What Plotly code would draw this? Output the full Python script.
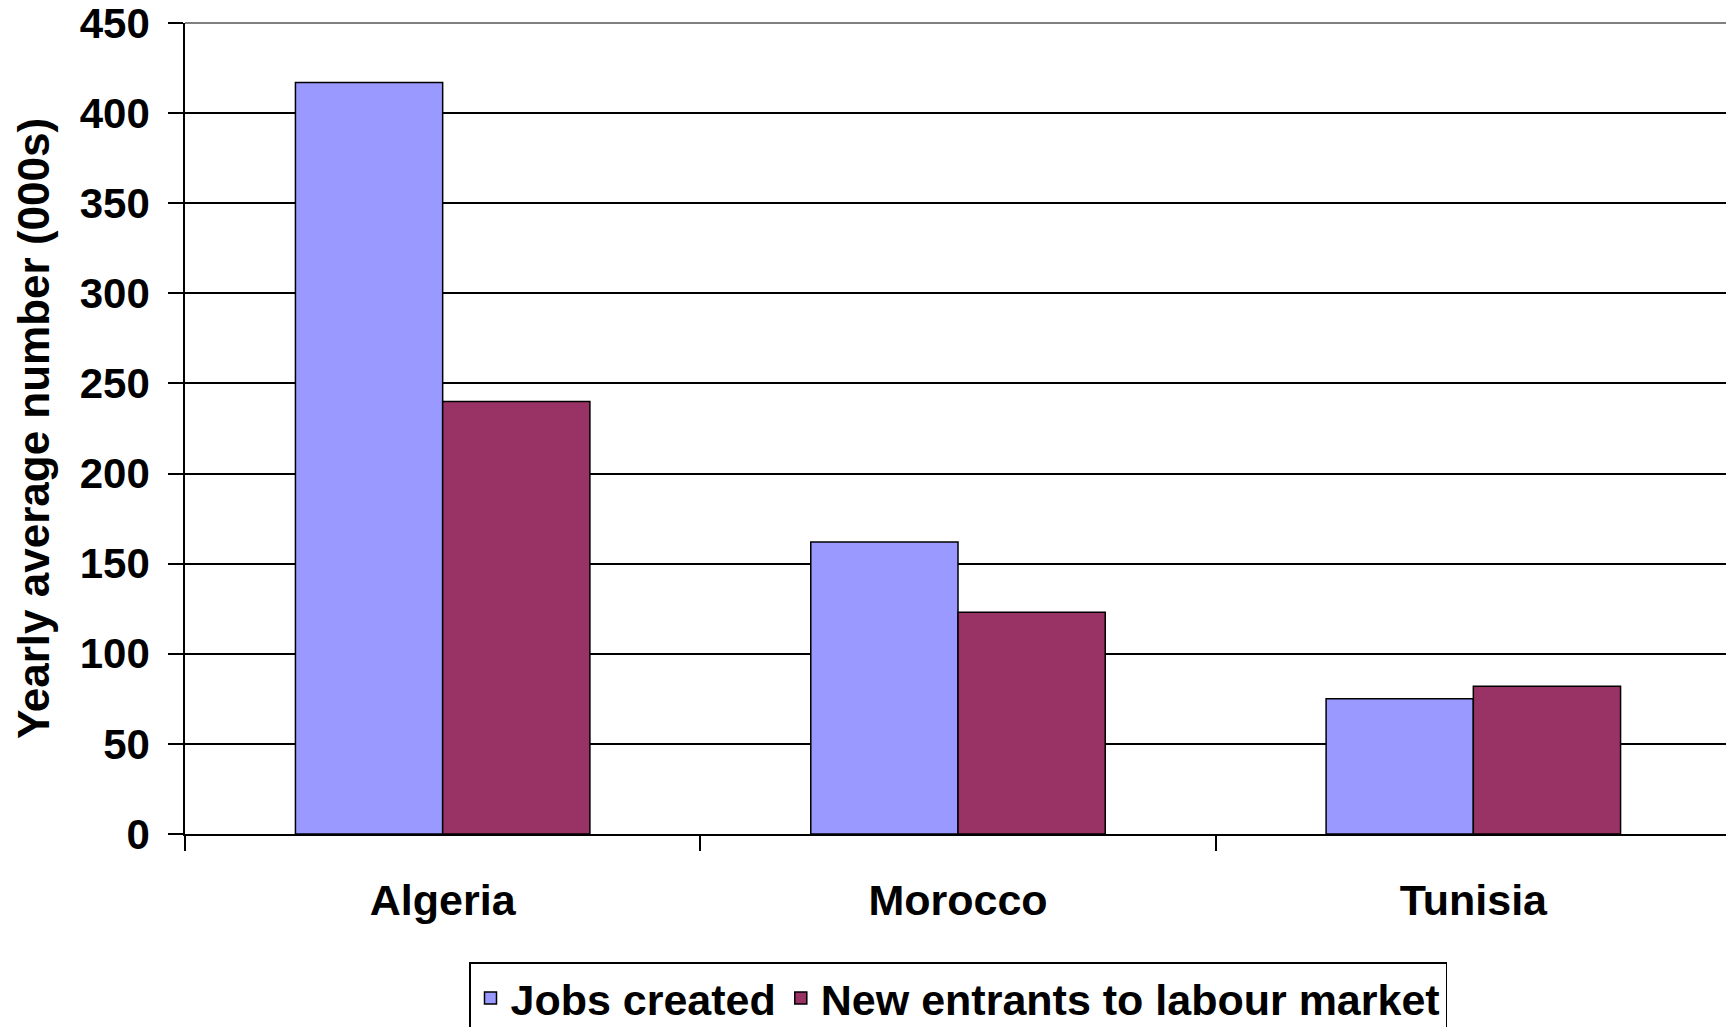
import plotly.graph_objects as go

countries = ["Algeria", "Morocco", "Tunisia"]
jobs_created = [417, 162, 75]
new_entrants = [240, 123, 82]
y_ticks = [0, 50, 100, 150, 200, 250, 300, 350, 400, 450]

FONT = "Liberation Sans, Arial, sans-serif"

fig = go.Figure()
fig.add_trace(go.Bar(
    name="Jobs created", x=countries, y=jobs_created,
    marker=dict(color="#9999FF", line=dict(color="black", width=1.5)),
))
fig.add_trace(go.Bar(
    name="New entrants to labour market", x=countries, y=new_entrants,
    marker=dict(color="#993366", line=dict(color="black", width=1.5)),
))

fig.update_layout(
    width=1726, height=1019,
    margin=dict(l=177, r=3, t=15, b=193, autoexpand=False),
    paper_bgcolor="white", plot_bgcolor="white",
    barmode="group", bargap=0.4286, bargroupgap=0,
    font=dict(family=FONT, size=42, color="black", weight="bold"),
    showlegend=True,
    legend=dict(
        orientation="h", x=0.5, xanchor="center", y=-0.158, yanchor="top",
        bordercolor="black", borderwidth=1.5, bgcolor="white",
        font=dict(family=FONT, size=43, color="black", weight="bold"),
        itemwidth=30, tracegroupgap=0,
    ),
    xaxis=dict(
        showline=True, linecolor="black", linewidth=1.5,
        ticks="outside", ticklen=15, tickwidth=1.5, tickcolor="black",
        tickson="boundaries", showgrid=False, ticklabelstandoff=28,
        tickfont=dict(family=FONT, size=43, color="black", weight="bold"),
    ),
    yaxis=dict(
        range=[0, 450], tickvals=y_ticks,
        showline=True, linecolor="black", linewidth=1.5,
        ticks="outside", ticklen=15, tickwidth=1.5, tickcolor="black",
        showgrid=True, gridcolor="black", gridwidth=1.5, zeroline=False,
        ticklabelstandoff=10, ticklabeloverflow="allow",
        tickfont=dict(family=FONT, size=42, color="black", weight="bold"),
        title=dict(text="Yearly average number (000s)", standoff=16,
                   font=dict(family=FONT, size=44, color="black", weight="bold")),
    ),
    shapes=[
        dict(type="line", xref="paper", yref="paper", x0=0, x1=1, y0=1, y1=1,
             line=dict(color="#808080", width=2), layer="above"),
        dict(type="line", xref="paper", yref="paper", x0=1, x1=1, y0=0, y1=1,
             line=dict(color="#808080", width=2), layer="above"),
    ],
)

fig.write_html("out.html")
